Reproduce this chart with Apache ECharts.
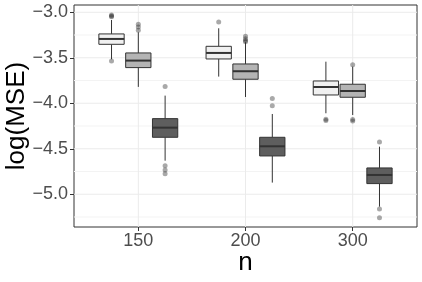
<!DOCTYPE html>
<html>
<head>
<meta charset="utf-8">
<script src="https://cdn.jsdelivr.net/npm/echarts@6/dist/echarts.min.js"></script>
<style>
html,body{margin:0;padding:0;background:#fff;}
#chart{width:422px;height:282px;}
</style>
</head>
<body>
<div id="chart"></div>
<script>
// ---- Data ----
const categories = ['150', '200', '300'];
const yTickValues = [-5.0, -4.5, -4.0, -3.5, -3.0];
const yMinorValues = [-5.25, -4.75, -4.25, -3.75, -3.25];

// [lowerWhisker, Q1, median, Q3, upperWhisker] per category
const lightStats = [
  [-3.516, -3.352, -3.293, -3.238, -3.085],
  [-3.707, -3.513, -3.447, -3.374, -3.176],
  [-4.110, -3.909, -3.821, -3.755, -3.543]
];
const midStats = [
  [-3.820, -3.608, -3.531, -3.447, -3.220],
  [-3.931, -3.736, -3.648, -3.568, -3.330],
  [-4.129, -3.934, -3.865, -3.791, -3.598]
];
const darkStats = [
  [-4.631, -4.374, -4.268, -4.169, -3.916],
  [-4.872, -4.579, -4.473, -4.374, -4.118],
  [-5.136, -4.883, -4.788, -4.711, -4.477]
];

const lightOutliers = [[-3.03, -3.04, -3.05, -3.535], [-3.107], [-4.175, -4.19]];
const midOutliers = [[-3.132, -3.161, -3.198], [-3.264, -3.29, -3.31, -3.323], [-3.576, -4.178, -4.195]];
const darkOutliers = [[-3.817, -4.686, -4.733, -4.774], [-3.949, -4.026], [-4.425, -5.162, -5.257]];

// ---- Build ----
const FONT = 'Liberation Sans, Arial, Helvetica, sans-serif';
const boxWidth = 0.236;
const groups = [
  { stats: lightStats, outliers: lightOutliers, offset: -0.25, color: '#f0f0f0' },
  { stats: midStats, outliers: midOutliers, offset: 0, color: '#b4b4b4' },
  { stats: darkStats, outliers: darkOutliers, offset: 0.25, color: '#5e5e5e' }
];

function boxRenderer(color) {
  return function (params, api) {
    const x = api.value(0);
    const pLo = api.coord([x, api.value(1)]);
    const pQ1 = api.coord([x, api.value(2)]);
    const pMed = api.coord([x, api.value(3)]);
    const pQ3 = api.coord([x, api.value(4)]);
    const pHi = api.coord([x, api.value(5)]);
    const w = api.size([boxWidth, 0])[0];
    const stroke = '#333333';
    return {
      type: 'group',
      children: [
        { type: 'line', shape: { x1: pLo[0], y1: pLo[1], x2: pQ1[0], y2: pQ1[1] }, style: { stroke: stroke, lineWidth: 1 } },
        { type: 'line', shape: { x1: pQ3[0], y1: pQ3[1], x2: pHi[0], y2: pHi[1] }, style: { stroke: stroke, lineWidth: 1 } },
        { type: 'rect', shape: { x: pQ3[0] - w / 2, y: pQ3[1], width: w, height: pQ1[1] - pQ3[1] }, style: { fill: color, stroke: stroke, lineWidth: 1 } },
        { type: 'line', shape: { x1: pMed[0] - w / 2, y1: pMed[1], x2: pMed[0] + w / 2, y2: pMed[1] }, style: { stroke: stroke, lineWidth: 2 } }
      ]
    };
  };
}

function hLineRenderer(color, width) {
  return function (params, api) {
    const cs = params.coordSys;
    const p = api.coord([1, api.value(0)]);
    return { type: 'line', shape: { x1: cs.x, y1: p[1], x2: cs.x + cs.width, y2: p[1] }, style: { stroke: color, lineWidth: width } };
  };
}
function vLineRenderer(color, width) {
  return function (params, api) {
    const cs = params.coordSys;
    const p = api.coord([api.value(0), -4]);
    return { type: 'line', shape: { x1: p[0], y1: cs.y, x2: p[0], y2: cs.y + cs.height }, style: { stroke: color, lineWidth: width } };
  };
}

const series = [
  { type: 'custom', z: 1, silent: true, renderItem: hLineRenderer('#f3f3f3', 1), data: yMinorValues.map(v => [v]), encode: { y: 0 } },
  { type: 'custom', z: 1, silent: true, renderItem: hLineRenderer('#ebebeb', 1), data: yTickValues.map(v => [v]), encode: { y: 0 } },
  { type: 'custom', z: 1, silent: true, renderItem: vLineRenderer('#ebebeb', 1), data: categories.map((c, i) => [i + 1]), encode: { x: 0 } }
];

groups.forEach(g => {
  series.push({
    type: 'custom',
    z: 3,
    renderItem: boxRenderer(g.color),
    data: g.stats.map((s, i) => [i + 1 + g.offset].concat(s)),
    encode: { x: 0, y: [1, 2, 3, 4, 5] }
  });
  const pts = [];
  g.outliers.forEach((arr, i) => arr.forEach(v => pts.push([i + 1 + g.offset, v])));
  series.push({
    type: 'scatter',
    z: 4,
    symbol: 'circle',
    symbolSize: 5,
    itemStyle: { color: 'rgba(40,40,40,0.5)' },
    data: pts
  });
});

const fmtNum = v => v.toFixed(1).replace('-', '\u2212');

const option = {
  animation: false,
  backgroundColor: '#ffffff',
  grid: { left: 74, right: 5, top: 5, bottom: 55, containLabel: false, outerBoundsMode: 'none', show: true, borderColor: '#333333', borderWidth: 1, backgroundColor: '#ffffff' },
  xAxis: {
    type: 'value', min: 0.4, max: 3.6,
    axisLine: { show: false },
    splitLine: { show: false },
    axisTick: { show: true, customValues: [1, 2, 3], length: 4, lineStyle: { color: '#333333' } },
    axisLabel: { customValues: [1, 2, 3], formatter: v => categories[Math.round(v) - 1], fontSize: 18, color: '#4d4d4d', margin: 5, fontFamily: FONT },
    name: 'n', nameLocation: 'middle', nameGap: 23, nameMoveOverlap: false,
    nameTextStyle: { fontSize: 26, color: '#000000', fontFamily: FONT }
  },
  yAxis: {
    type: 'value', min: -5.36, max: -2.92,
    axisLine: { show: false },
    splitLine: { show: false },
    axisTick: { show: true, customValues: yTickValues, length: 4, lineStyle: { color: '#333333' } },
    axisLabel: { customValues: yTickValues, formatter: fmtNum, fontSize: 18, color: '#4d4d4d', margin: 6, fontFamily: FONT },
    name: 'log(MSE)', nameLocation: 'middle', nameGap: 44, nameMoveOverlap: false,
    nameTextStyle: { fontSize: 26, color: '#000000', fontFamily: FONT }
  },
  series: series
};

const chart = echarts.init(document.getElementById('chart'), null, { renderer: 'canvas' });
chart.setOption(option);
</script>
</body>
</html>
